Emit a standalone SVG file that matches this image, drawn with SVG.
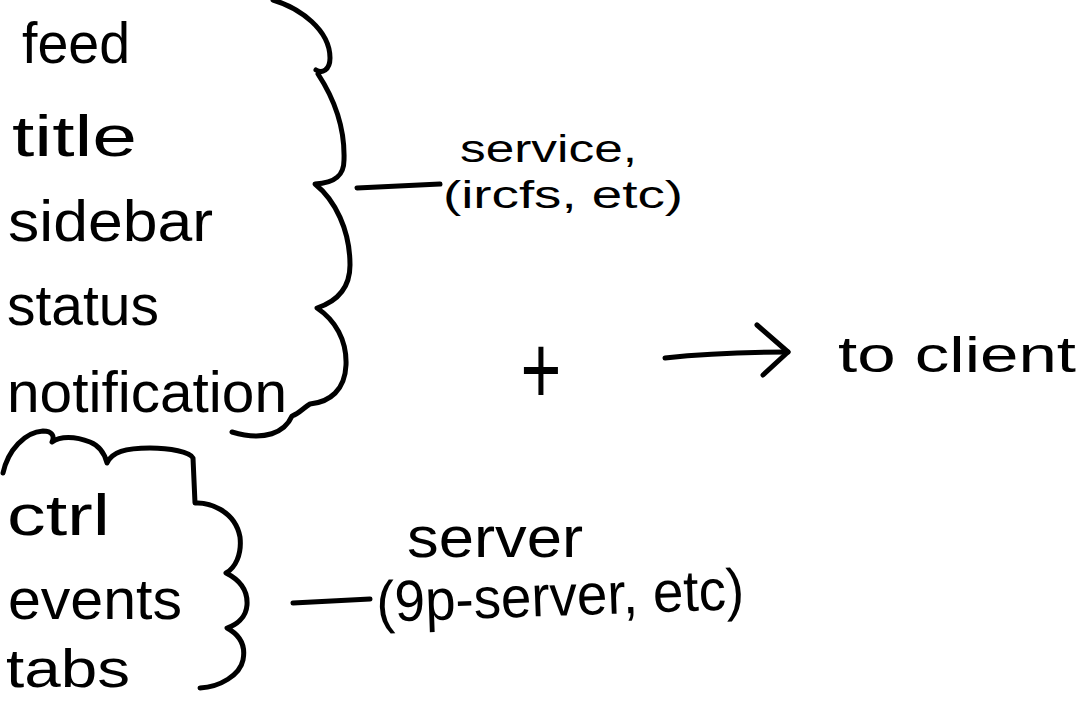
<svg xmlns="http://www.w3.org/2000/svg" width="1080" height="701" viewBox="0 0 1080 701">
<style>
.ink{fill:none;stroke:#000;stroke-width:5;stroke-linecap:round;stroke-linejoin:round}
.t{font-family:"Liberation Sans","DejaVu Sans",sans-serif;fill:#000}
.big{font-size:58px}
.mid{font-size:38px}
</style>
<rect width="1080" height="701" fill="#fff"/>
<g id="group-top">
<text class="t big" x="22" y="63" textLength="108" lengthAdjust="spacingAndGlyphs">feed</text>
<text class="t big" x="12" y="156" textLength="125" lengthAdjust="spacingAndGlyphs">title</text>
<text class="t big" x="8" y="241" textLength="205" lengthAdjust="spacingAndGlyphs">sidebar</text>
<text class="t big" x="7" y="325" textLength="152" lengthAdjust="spacingAndGlyphs">status</text>
<text class="t big" x="7" y="412" textLength="280" lengthAdjust="spacingAndGlyphs">notification</text>
<path class="ink" d="M273,0 C300,8 330,30 330,58 C330,70 322,74 316,70 M318,74 C335,100 345,130 344,160 C344,175 336,183 315,184 C335,200 350,230 350,265 C350,290 335,302 317,308 C335,320 347,340 346,365 C345,390 330,402 310,404 C303,408 300,413 292,416 C285,432 265,442 232,432"/>
</g>
<g id="group-bottom">
<text class="t big" x="7" y="535" textLength="103" lengthAdjust="spacingAndGlyphs">ctrl</text>
<text class="t big" x="8" y="619" textLength="174" lengthAdjust="spacingAndGlyphs">events</text>
<text class="t" x="6" y="687" font-size="54" textLength="124" lengthAdjust="spacingAndGlyphs">tabs</text>
<path class="ink" d="M3,473 C8,450 25,432 43,431 C52,431 55,436 52,442 C60,436 75,436 90,442 C100,446 105,455 107,463 C112,452 125,448 150,448 C170,448 190,452 193,458 L195,503 C208,502 235,510 240,537 C242,555 235,568 226,573 C240,580 248,590 247,605 C246,618 236,625 227,628 C240,635 246,645 243,660 C240,675 220,687 200,688"/>
</g>
<g id="service">
<text class="t mid" x="460" y="162" textLength="177" lengthAdjust="spacingAndGlyphs">service,</text>
<text class="t mid" x="443" y="208" textLength="240" lengthAdjust="spacingAndGlyphs">(ircfs, etc)</text>
</g>
<g id="server">
<text class="t big" x="407" y="557" textLength="176" lengthAdjust="spacingAndGlyphs">server</text>
<text class="t big" x="377" y="622" textLength="368" lengthAdjust="spacingAndGlyphs" transform="rotate(-2 377 622)">(9p-server, etc)</text>
</g>
<g id="plus">
<text class="t" x="0" y="0" font-size="70" text-anchor="middle" transform="translate(541,404) scale(1,1.4)">+</text>
</g>
<g id="client">
<text class="t" x="838" y="372" font-size="50" textLength="238" lengthAdjust="spacingAndGlyphs">to client</text>
</g>
<g id="connectors">
<path class="ink" d="M357,188 L440,184"/>
<path class="ink" d="M293,603 L370,599"/>
<path class="ink" d="M665,358 C700,354 740,352 788,352"/>
<path class="ink" d="M757,325 L788,352 L763,375"/>
</g>
</svg>
